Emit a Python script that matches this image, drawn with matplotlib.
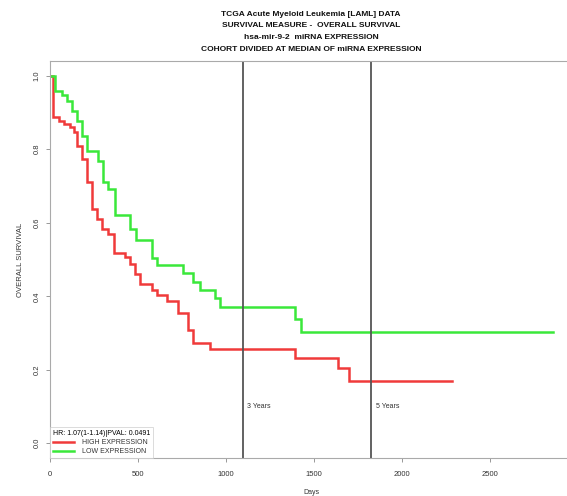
import matplotlib
matplotlib.use("Agg")
import matplotlib.pyplot as plt
from matplotlib.lines import Line2D

plt.rcParams['font.family'] = ['Liberation Sans', 'DejaVu Sans']

title_lines = [
    "TCGA Acute Myeloid Leukemia [LAML] DATA",
    "SURVIVAL MEASURE -  OVERALL SURVIVAL",
    "hsa-mir-9-2  miRNA EXPRESSION",
    "COHORT DIVIDED AT MEDIAN OF miRNA EXPRESSION",
]

times_high = [0, 19, 53, 80, 114, 136, 155, 180, 212, 237, 265, 294, 331, 365,
              426, 455, 483, 511, 578, 606, 663, 729, 786, 814, 909, 1392,
              1638, 1701, 2282]
surv_high = [1.0, 0.887, 0.878, 0.869, 0.860, 0.846, 0.810, 0.774, 0.710, 0.638,
             0.611, 0.583, 0.570, 0.518, 0.506, 0.488, 0.461, 0.434, 0.418,
             0.404, 0.387, 0.355, 0.307, 0.274, 0.257, 0.233, 0.206, 0.169, 0.169]

times_low = [0, 28, 66, 95, 123, 152, 180, 212, 275, 303, 331, 369, 455, 489,
             578, 606, 758, 814, 852, 938, 966, 1392, 1424, 2860]
surv_low = [1.0, 0.959, 0.948, 0.932, 0.905, 0.878, 0.837, 0.796, 0.769, 0.710,
            0.692, 0.620, 0.583, 0.552, 0.503, 0.484, 0.463, 0.438, 0.418,
            0.395, 0.370, 0.339, 0.304, 0.304]

year_marks = [1095, 1825]
year_labels = ["3 Years", "5 Years"]

legend_title = "HR: 1.07(1-1.14)|PVAL: 0.0491"
legend_labels = ["HIGH EXPRESSION", "LOW EXPRESSION"]
x_ticks = [0, 500, 1000, 1500, 2000, 2500]
y_ticks = [0.0, 0.2, 0.4, 0.6, 0.8, 1.0]

W, H = 567, 496
fig = plt.figure(figsize=(W / 100, H / 100), dpi=100)
left, right, top, bottom = 50, 572, 61, 458
ax = fig.add_axes([left / W, 1 - bottom / H, (right - left) / W, (bottom - top) / H])

red = '#f03a3a'
green = '#3ae83a'
ax.step(times_high, surv_high, where='post', color=red, lw=1.8, solid_joinstyle='miter')
ax.step(times_low, surv_low, where='post', color=green, lw=1.8, solid_joinstyle='miter')

for xm, lab in zip(year_marks, year_labels):
    ax.axvline(xm, color='#555555', lw=1.3)
    ax.text(xm + 25, 0.099, lab, fontsize=5, color='#333333', va='center', ha='left')

ax.set_xlim(0, 2966)
ax.set_ylim(-0.04, 1.04)
ax.set_xticks(x_ticks)
ax.set_xticklabels([str(t) for t in x_ticks], fontsize=5.5, color='#333333')
ax.set_yticks(y_ticks)
ax.set_yticklabels([f"{t:.1f}" for t in y_ticks], fontsize=5.5, color='#333333',
                   rotation=90, va='center')
ax.tick_params(axis='both', length=3, width=0.6, color='#888888')
ax.tick_params(axis='x', pad=6)
ax.tick_params(axis='y', pad=4)
for s in ['left', 'bottom', 'top']:
    ax.spines[s].set_color('#aaaaaa')
    ax.spines[s].set_linewidth(0.8)
ax.spines['right'].set_visible(False)

ax.set_xlabel("Days", fontsize=5, color='#333333', labelpad=8.3)
ax.set_ylabel("OVERALL SURVIVAL", fontsize=5.5, color='#333333', labelpad=7)

handles = [Line2D([], [], color=red, lw=1.8), Line2D([], [], color=green, lw=1.8)]
leg = ax.legend(handles, legend_labels, title=legend_title, loc='lower left',
                bbox_to_anchor=(0, 0), borderaxespad=0, fontsize=5,
                title_fontproperties={'size': 5}, alignment='left',
                frameon=True, fancybox=False, handlelength=3, handletextpad=1.2,
                labelspacing=0.3, borderpad=0.4)
leg.get_frame().set_edgecolor('#cccccc')
leg.get_frame().set_linewidth(0.6)
for t in leg.get_texts():
    t.set_color('#333333')

for i, line in enumerate(title_lines):
    fig.text(311 / W, 1 - (14 + i * 11.7) / H, line, ha='center', va='center',
             fontsize=6, fontweight='bold', color='#111111')

fig.savefig("out.png", dpi=100)
